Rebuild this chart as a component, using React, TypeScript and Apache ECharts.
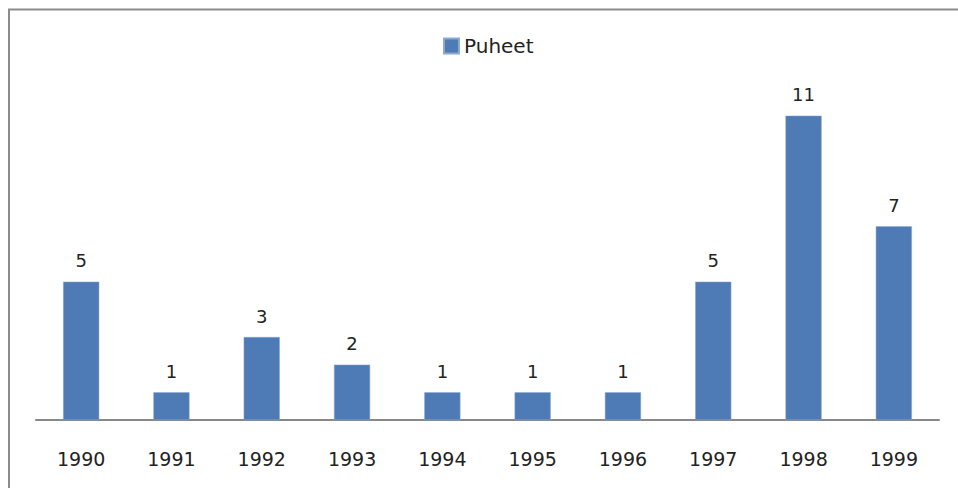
import React, { useEffect, useRef } from "react";
import * as echarts from "echarts";

const categories = ["1990", "1991", "1992", "1993", "1994", "1995", "1996", "1997", "1998", "1999"];
const values = [5, 1, 3, 2, 1, 1, 1, 5, 11, 7];
const seriesName = "Puheet";

export default function App() {
  const ref = useRef<HTMLDivElement>(null);
  useEffect(() => {
    const chart = echarts.init(ref.current!, null, { renderer: "svg" });
    const font = "DejaVu Sans";
    chart.setOption({
      animation: false,
      backgroundColor: "#ffffff",
      graphic: [
        {
          type: "rect",
          shape: { x: 9, y: 9.5, width: 1000, height: 600 },
          style: { fill: "none", stroke: "#8c8c8c", lineWidth: 2 },
          silent: true,
        },
      ],
      legend: {
        top: 31,
        left: 438,
        itemWidth: 15,
        itemHeight: 15,
        itemGap: 8,
        data: [seriesName],
        icon: "rect",
        textStyle: { fontFamily: font, fontSize: 20, color: "#222" },
      },
      grid: { left: 36, right: 19, top: 88, bottom: 68, containLabel: false },
      xAxis: {
        type: "category",
        data: categories,
        axisLine: { show: true, lineStyle: { color: "#888888", width: 2 } },
        axisTick: { show: false },
        axisLabel: { fontFamily: font, fontSize: 19, color: "#222", margin: 29 },
      },
      yAxis: {
        type: "value",
        min: 0,
        max: 12,
        show: false,
        splitLine: { show: false },
      },
      series: [
        {
          name: seriesName,
          type: "bar",
          data: values,
          barWidth: "40%",
          itemStyle: { color: "#4e7bb6", borderColor: "#8aa9d3", borderWidth: 0.5 },
          label: {
            show: true,
            position: "top",
            distance: 12,
            fontFamily: font,
            fontSize: 18,
            color: "#222",
          },
        },
      ],
    });
    return () => chart.dispose();
  }, []);
  return <div ref={ref} style={{ position: "fixed", left: 0, top: 0, width: 958, height: 488 }} />;
}
